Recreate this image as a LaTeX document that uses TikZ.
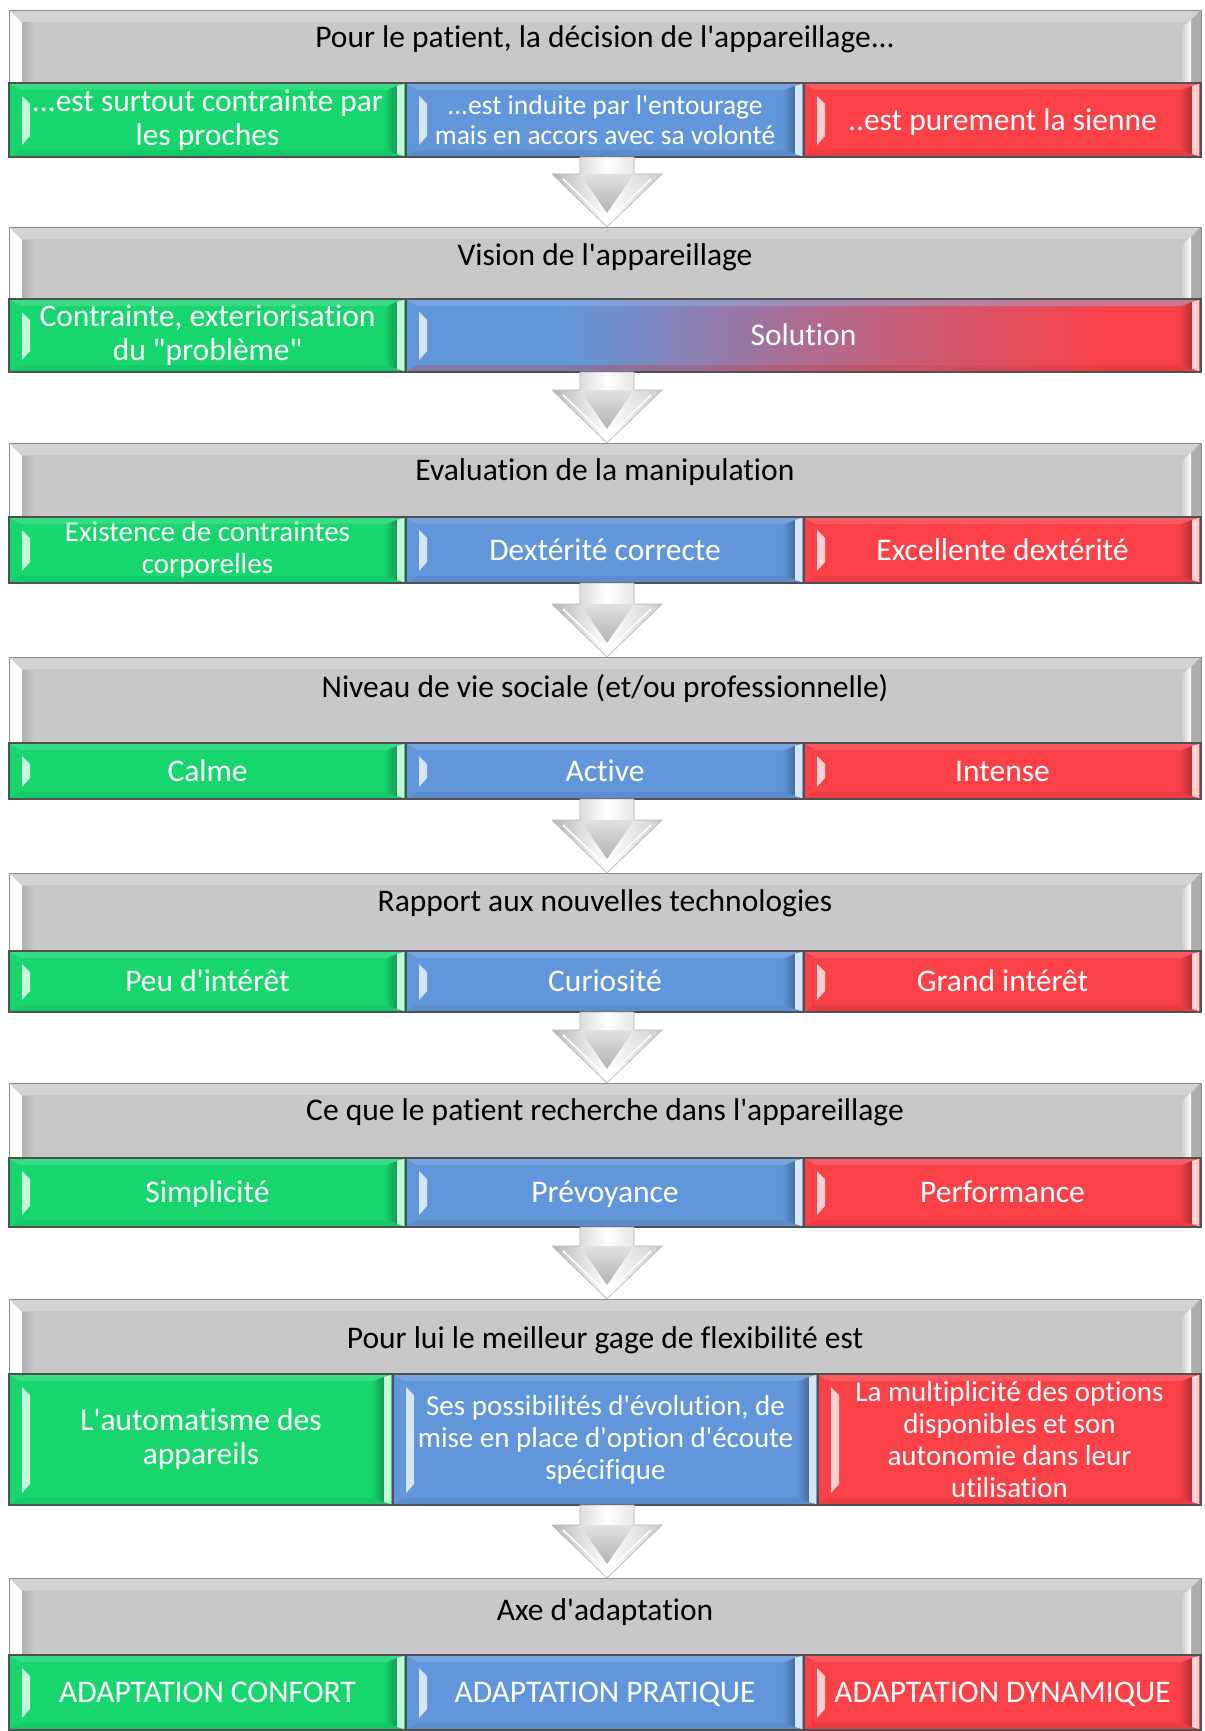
\documentclass[tikz,border=0pt]{standalone}
\usepackage{fontspec}
\setmainfont{Carlito}[Ligatures={TeXOff,NoCommon}]
\usetikzlibrary{calc}

\definecolor{gris}{HTML}{C8C8C8}
\definecolor{vertc}{HTML}{18D66E}
\definecolor{bleuc}{HTML}{6197DA}
\definecolor{rougec}{HTML}{FA4148}
\definecolor{bord}{HTML}{505050}

\pgfdeclarehorizontalshading{solution}{100bp}{color(0bp)=(bleuc); color(35bp)=(bleuc); color(50bp)=(bleuc!50!rougec); color(69bp)=(rougec); color(100bp)=(rougec)}

\tikzset{
  panneau/.style={draw=black!45, fill=gris, anchor=north west, inner sep=0pt, outer sep=0pt, minimum width=1192pt},
  titre/.style={anchor=base, inner sep=0pt, text=black, font=\fontsize{31.5}{34}\selectfont},
  choix/.style={draw=bord, line width=1.2pt, anchor=north west, inner sep=0pt, outer sep=0pt, minimum width=397pt, text=white, align=center, font=\fontsize{31.5}{34}\selectfont},
  ligne/.style={text height=23.6pt, text depth=3.2pt},
  vert/.style={choix, fill=vertc},
  bleu/.style={choix, fill=bleuc},
  rouge/.style={choix, fill=rougec},
  petit/.style={font=\fontsize{29}{32}\selectfont},
  fleche/.style={draw=black!30, line width=0.6pt, left color=black!28, right color=black!20, middle color=white},
}

% relief du bandeau gris
\newcommand{\biseaugris}[1]{%
  \fill[gris!80!white] (#1.north west) -- (#1.north east) -- ($(#1.north east)+(-12,12)$) -- ($(#1.north west)+(12,12)$) -- cycle;
  \fill[white] (#1.north west) -- ($(#1.north west)+(13,13)$) -- ($(#1.south west)+(13,0)$) -- (#1.south west) -- cycle;
  \shade[left color=gris!88!black, right color=gris] ($(#1.north west)+(13,13)$) rectangle ($(#1.south west)+(25,0)$);
  \fill[black!32] (#1.north east) -- (#1.south east) -- ($(#1.south east)+(-10,0)$) -- ($(#1.north east)+(-10,10)$) -- cycle;
  \shade[left color=gris, right color=white] ($(#1.north east)+(-20,18)$) -- ($(#1.north east)+(-10,10)$) -- ($(#1.south east)+(-10,0)$) -- ($(#1.south east)+(-20,0)$) -- cycle;
  \draw[black!45] (#1.north west) rectangle (#1.south east);
}

% relief des cases de couleur
\newcommand{\biseau}[3]{%
  \fill[#2!70!white, opacity=.45] ($(#1.north west)+(1,1)$) -- ($(#1.north east)+(-1,1)$) -- ($(#1.north east)+(-11,7)$) -- ($(#1.north west)+(11,7)$) -- cycle;
  \fill[#3!80!black, opacity=.3] ($(#1.south west)+(1,-1)$) -- ($(#1.south east)+(-1,-1)$) -- ($(#1.south east)+(-11,-7)$) -- ($(#1.south west)+(11,-7)$) -- cycle;
  \fill[#2!25!white] ($(#1.north west)+(13,13)$) -- ($(#1.north west)+(21,21)$) -- ($(#1.south west)+(21,-21)$) -- ($(#1.south west)+(13,-12)$) -- cycle;
  \shade[left color=#3, right color=#3!72!black] ($(#1.north east)+(-22,8)$) -- ($(#1.north east)+(-9,3)$) -- ($(#1.south east)+(-9,-3)$) -- ($(#1.south east)+(-22,-8)$) -- cycle;
  \fill[#3!25!white] ($(#1.north east)+(-9,3)$) -- ($(#1.north east)+(-2,1)$) -- ($(#1.south east)+(-2,-1)$) -- ($(#1.south east)+(-9,-3)$) -- cycle;
}

% grosse fleche entre deux bandeaux
\newcommand{\fleche}[2]{%
  \coordinate (fa) at ($(#1.south)+(2,0)$);
  \coordinate (fb) at ($(#2.north)+(2,0)$);
  \path[fleche] ($(fa)+(-27,0)$) -- ($(fa)+(27,0)$) -- ($(fb)+(27,-53)$) -- ($(fb)+(55,-53)$) -- (fb) -- ($(fb)+(-55,-53)$) -- ($(fb)+(-27,-53)$) -- cycle;
  \shade[top color=black!12, bottom color=black!30] ($(fb)+(-27,-53)$) -- ($(fb)+(27,-53)$) -- ($(fb)+(0,-14)$) -- cycle;
  \draw[white, line width=1.5pt] ($(fb)+(-44,-48)$) -- ($(fb)+(0,-6)$) -- ($(fb)+(44,-48)$);
}

\begin{document}
\begin{tikzpicture}[x=1pt,y=1pt,yscale=-1,xscale=1]
\useasboundingbox (0,0) rectangle (1204,1731);

% 1
\node[panneau, minimum height=147pt] (p1) at (9,10) {};
\biseaugris{p1}
\node[titre] (t1) at (605,48) {Pour le patient, la décision de l'appareillage...};
\node[vert, minimum height=74pt] (v1) at (9,83) {...est surtout contrainte par\\les proches};
\biseau{v1}{vertc}{vertc}
\node[bleu, minimum height=74pt, minimum width=398pt, font=\fontsize{27.5}{30}\selectfont] (b1) at (406,83) {...est induite par l'entourage\\mais en accors avec sa volonté};
\biseau{b1}{bleuc}{bleuc}
\node[rouge, ligne, minimum height=74pt] (r1) at (804,83) {..est purement la sienne};
\biseau{r1}{rougec}{rougec}

% 2
\node[panneau, minimum height=145pt] (p2) at (9,227) {};
\biseaugris{p2}
\node[titre] (t2) at (605,265) {Vision de l'appareillage};
\node[vert, minimum height=73pt] (v2) at (9,299) {Contrainte, exteriorisation\\du "problème"};
\biseau{v2}{vertc}{vertc}
\node[choix, ligne, shading=solution, minimum height=73pt, minimum width=795pt] (s2) at (406,299) {Solution};
\biseau{s2}{bleuc}{rougec}

% 3
\node[panneau, minimum height=140pt] (p3) at (9,443) {};
\biseaugris{p3}
\node[titre] (t3) at (605,480) {Evaluation de la manipulation};
\node[vert, petit, minimum height=66pt] (v3) at (9,517) {Existence de contraintes\\corporelles};
\biseau{v3}{vertc}{vertc}
\node[bleu, ligne, minimum height=66pt, minimum width=398pt] (b3) at (406,517) {Dextérité correcte};
\biseau{b3}{bleuc}{bleuc}
\node[rouge, ligne, minimum height=66pt] (r3) at (804,517) {Excellente dextérité};
\biseau{r3}{rougec}{rougec}

% 4
\node[panneau, minimum height=142pt] (p4) at (9,657) {};
\biseaugris{p4}
\node[titre] (t4) at (605,697) {Niveau de vie sociale (et/ou professionnelle)};
\node[vert, ligne, minimum height=56pt] (v4) at (9,743) {Calme};
\biseau{v4}{vertc}{vertc}
\node[bleu, ligne, minimum height=56pt, minimum width=398pt] (b4) at (406,743) {Active};
\biseau{b4}{bleuc}{bleuc}
\node[rouge, ligne, minimum height=56pt] (r4) at (804,743) {Intense};
\biseau{r4}{rougec}{rougec}

% 5
\node[panneau, minimum height=139pt] (p5) at (9,873) {};
\biseaugris{p5}
\node[titre] (t5) at (605,911) {Rapport aux nouvelles technologies};
\node[vert, ligne, minimum height=61pt] (v5) at (9,951) {Peu d'intérêt};
\biseau{v5}{vertc}{vertc}
\node[bleu, ligne, minimum height=61pt, minimum width=398pt] (b5) at (406,951) {Curiosité};
\biseau{b5}{bleuc}{bleuc}
\node[rouge, ligne, minimum height=61pt] (r5) at (804,951) {Grand intérêt};
\biseau{r5}{rougec}{rougec}

% 6
\node[panneau, minimum height=144pt] (p6) at (9,1083) {};
\biseaugris{p6}
\node[titre] (t6) at (605,1120) {Ce que le patient recherche dans l'appareillage};
\node[vert, ligne, minimum height=69pt] (v6) at (9,1158) {Simplicité};
\biseau{v6}{vertc}{vertc}
\node[bleu, ligne, minimum height=69pt, minimum width=398pt] (b6) at (406,1158) {Prévoyance};
\biseau{b6}{bleuc}{bleuc}
\node[rouge, ligne, minimum height=69pt] (r6) at (804,1158) {Performance};
\biseau{r6}{rougec}{rougec}

% 7
\node[panneau, minimum height=206pt] (p7) at (9,1299) {};
\biseaugris{p7}
\node[titre] (t7) at (605,1348) {Pour lui le meilleur gage de flexibilité est};
\node[vert, minimum height=131pt, minimum width=384pt] (v7) at (9,1374) {L'automatisme des\\appareils};
\biseau{v7}{vertc}{vertc}
\node[bleu, petit, minimum height=131pt, minimum width=425pt] (b7) at (393,1374) {Ses possibilités d'évolution, de\\mise en place d'option d'écoute\\spécifique};
\biseau{b7}{bleuc}{bleuc}
\node[rouge, petit, minimum height=131pt, minimum width=383pt] (r7) at (818,1374) {La multiplicité des options\\disponibles et son\\autonomie dans leur\\utilisation};
\biseau{r7}{rougec}{rougec}

% 8
\node[panneau, minimum height=152pt] (p8) at (9,1578) {};
\biseaugris{p8}
\node[titre] (t8) at (605,1620) {Axe d'adaptation};
\node[vert, ligne, minimum height=75pt] (v8) at (9,1655) {ADAPTATION CONFORT};
\biseau{v8}{vertc}{vertc}
\node[bleu, ligne, minimum height=75pt, minimum width=398pt] (b8) at (406,1655) {ADAPTATION PRATIQUE};
\biseau{b8}{bleuc}{bleuc}
\node[rouge, ligne, minimum height=75pt] (r8) at (804,1655) {ADAPTATION DYNAMIQUE};
\biseau{r8}{rougec}{rougec}

% fleches
\fleche{p1}{p2}
\fleche{p2}{p3}
\fleche{p3}{p4}
\fleche{p4}{p5}
\fleche{p5}{p6}
\fleche{p6}{p7}
\fleche{p7}{p8}

\end{tikzpicture}
\end{document}
